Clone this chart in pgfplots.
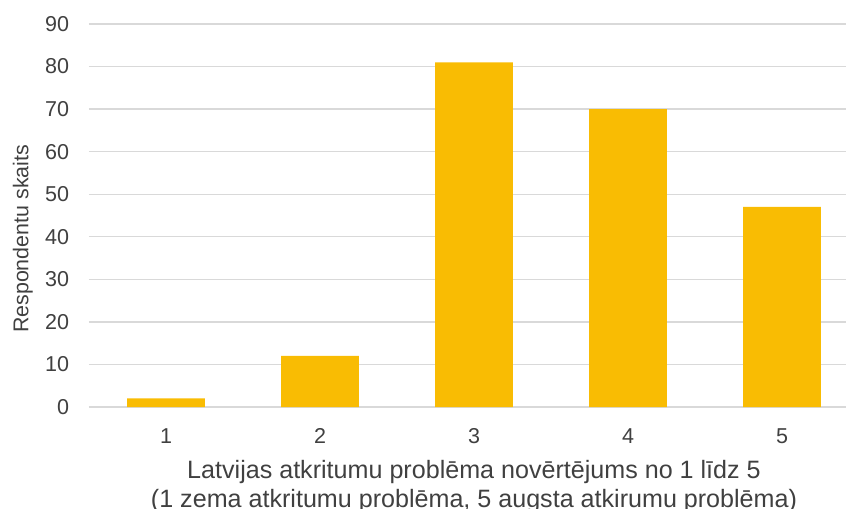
\documentclass[border=0pt]{standalone}
\usepackage{fontspec}
\setmainfont{Liberation Sans}
\usepackage{pgfplots}
\pgfplotsset{compat=1.18}
\definecolor{baryellow}{RGB}{249,188,3}
\definecolor{gridgray}{RGB}{217,217,217}
\definecolor{txtgray}{RGB}{64,64,64}
\begin{document}
\begin{tikzpicture}[x=1bp,y=1bp]
\begin{axis}[
  at={(0,0)}, anchor=south west,
  scale only axis,
  width=770bp, height=383bp,
  xmin=0.5, xmax=5.5,
  ymin=0, ymax=90,
  ytick={0,10,...,90},
  xtick={1,2,3,4,5},
  axis line style={draw=none},
  major tick length=0pt,
  ymajorgrids,
  grid style={gridgray, line width=1.3bp},
  tick label style={font=\fontsize{21.6}{25}\selectfont, text=txtgray},
  /pgf/number format/assume math mode=true,
  yticklabel style={xshift=-16.5bp},
  xticklabel style={yshift=-18bp},
  ylabel={Respondentu skaits},
  ylabel style={font=\fontsize{21.5}{25}\selectfont, text=txtgray, at={(axis description cs:0,0.439)}, anchor=south, yshift=52.7bp},
  xlabel={Latvijas atkritumu problēma novērtējums no 1 līdz 5\\(1 zema atkritumu problēma, 5 augsta atkirumu problēma)},
  xlabel style={font=\fontsize{25.2}{29.5}\selectfont, text=txtgray, align=center, at={(axis description cs:0.5,0)}, anchor=north, yshift=-49.7bp},
  clip=false,
]
\addplot[ybar, bar width=0.506, fill=baryellow, draw=none] coordinates {
  (1,2) (2,12) (3,81) (4,70) (5,47)
};
\end{axis}
\pgfresetboundingbox
\path (-89bp,-102bp) rectangle (757bp,407bp);
\end{tikzpicture}
\end{document}
